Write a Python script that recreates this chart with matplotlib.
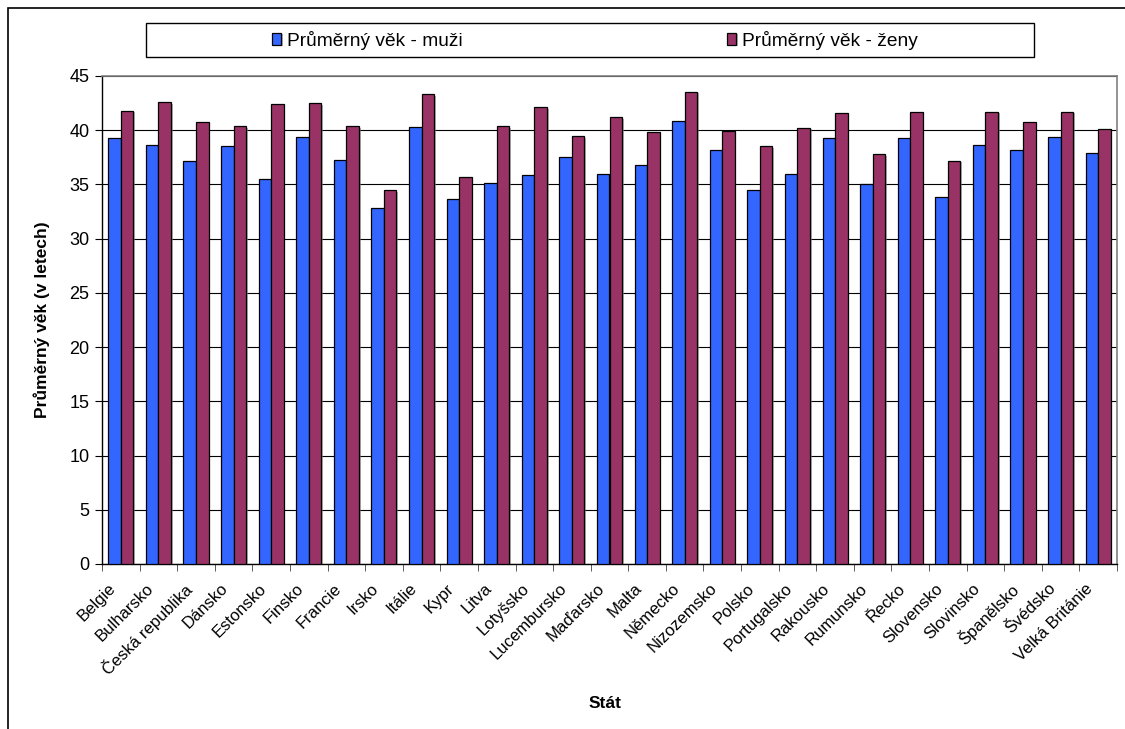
import matplotlib
matplotlib.use("Agg")
import matplotlib.pyplot as plt
import matplotlib.patheffects as pe
import matplotlib.transforms as mtransforms
from matplotlib.patches import Rectangle
import numpy as np

plt.rcParams['font.family'] = ['Liberation Sans', 'DejaVu Sans']

# Average age by country and sex
countries = [
    "Belgie", "Bulharsko", "Česká republika", "Dánsko", "Estonsko", "Finsko",
    "Francie", "Irsko", "Itálie", "Kypr", "Litva", "Lotyšsko", "Lucembursko",
    "Maďarsko", "Malta", "Německo", "Nizozemsko", "Polsko", "Portugalsko",
    "Rakousko", "Rumunsko", "Řecko", "Slovensko", "Slovinsko", "Španělsko",
    "Švédsko", "Velká Británie",
]
men = [39.3, 38.6, 37.2, 38.5, 35.5, 39.4, 37.3, 32.85, 40.3, 33.65, 35.15,
       35.9, 37.5, 36.0, 36.8, 40.85, 38.15, 34.5, 36.0, 39.3, 35.0, 39.3,
       33.8, 38.6, 38.15, 39.4, 37.9]
women = [41.8, 42.6, 40.8, 40.4, 42.4, 42.5, 40.4, 34.5, 43.3, 35.65, 40.4,
         42.15, 39.45, 41.2, 39.8, 43.55, 39.95, 38.5, 40.25, 41.55, 37.8,
         41.65, 37.2, 41.7, 40.8, 41.7, 40.1]
label_men = "Průměrný věk - muži"
label_women = "Průměrný věk - ženy"
yticks = list(range(0, 50, 5))

W, H = 1125, 729
fig = plt.figure(figsize=(W / 100, H / 100), dpi=100)

# Outer chart frame (runs off the right and bottom edges)
fig.add_artist(Rectangle((8 / W, -0.05), 1.2, 1 - 8 / H + 0.05,
                         transform=fig.transFigure, fill=False,
                         edgecolor='black', linewidth=1.2))

ax = fig.add_axes([102 / W, 1 - 564 / H, (1117 - 102) / W, (564 - 76) / H])

x = np.arange(len(countries))
bw = 1 / 3
shadow = [pe.SimplePatchShadow(offset=(1.2, -1.2), shadow_rgbFace='#808080', alpha=0.6),
          pe.Normal()]
b1 = ax.bar(x - bw / 2, men, width=bw, color='#3366FF', edgecolor='black',
            linewidth=0.9, label=label_men, zorder=3)
b2 = ax.bar(x + bw / 2, women, width=bw, color='#993366', edgecolor='black',
            linewidth=0.9, label=label_women, zorder=3)
for b in list(b1) + list(b2):
    b.set_path_effects(shadow)

ax.set_xlim(-0.5, len(countries) - 0.5)
ax.set_ylim(0, 45)
ax.set_yticks(yticks)
ax.yaxis.grid(True, color='black', linewidth=0.8)
ax.set_axisbelow(True)

ax.set_xticks(np.arange(-0.5, len(countries), 1), minor=True)
ax.tick_params(axis='x', which='major', length=0, pad=12)
ax.tick_params(axis='x', which='minor', length=5, direction='out', color='#404040')
ax.tick_params(axis='y', length=5, direction='out', labelsize=13, pad=4)

ax.set_xticks(x)
ax.set_xticklabels(countries, rotation=45, ha='right', va='top',
                   rotation_mode='anchor', fontsize=12)
# Nudge the slanted category labels to the left of their tick centres
shift = mtransforms.ScaledTranslation(-13 / 100, 0, fig.dpi_scale_trans)
for lab in ax.get_xticklabels():
    lab.set_transform(lab.get_transform() + shift)

for s in ('top', 'right'):
    ax.spines[s].set_color('#808080')
    ax.spines[s].set_linewidth(1.2)
for s in ('left', 'bottom'):
    ax.spines[s].set_color('black')
    ax.spines[s].set_linewidth(1.0)

ax.set_ylabel("Průměrný věk (v letech)", fontsize=12.5, fontweight='bold', labelpad=14)
fig.text(605 / W, 1 - 703 / H, "Stát", fontsize=12.5, fontweight='bold',
         ha='center', va='center')

# Legend box
fig.add_artist(Rectangle((146 / W, 1 - 57 / H), (1034 - 146) / W, 34 / H,
                         transform=fig.transFigure, fill=False,
                         edgecolor='black', linewidth=1.0))
fig.legend(handles=[b1, b2], loc='center left',
           bbox_to_anchor=(255 / W, 1 - 40 / H),
           ncol=2, frameon=False, fontsize=13.8, handlelength=0.47,
           handleheight=0.6, handletextpad=0.31, columnspacing=13.8)

fig.savefig("out.png", dpi=100)
